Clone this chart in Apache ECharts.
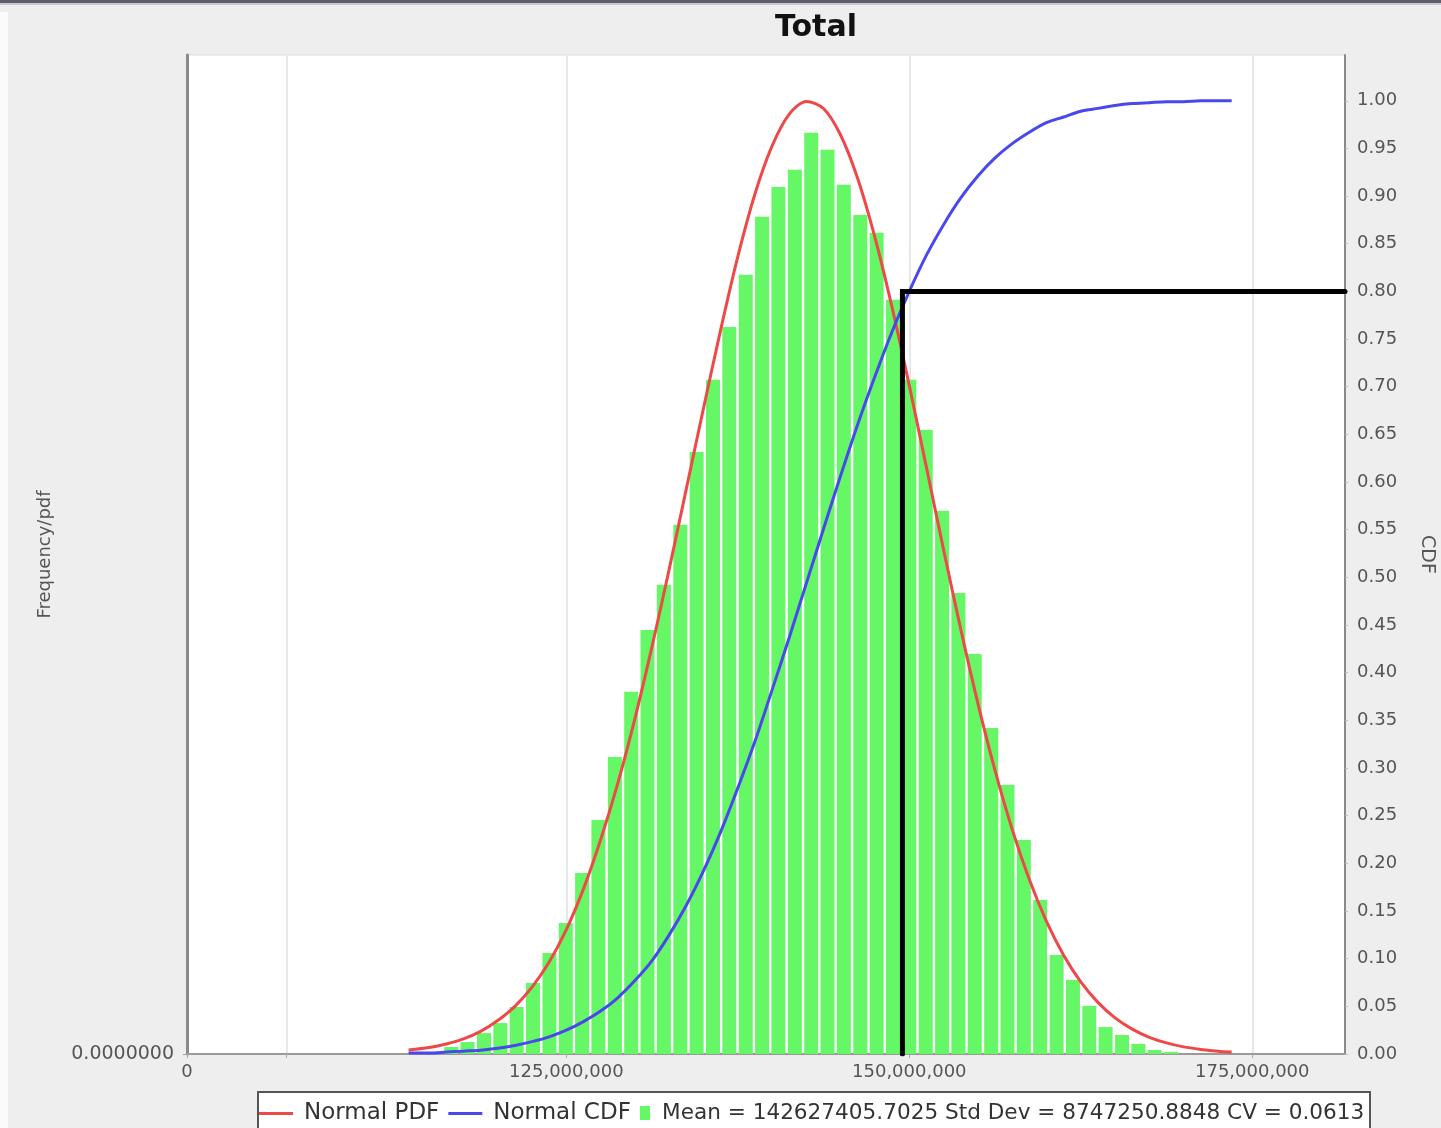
<!DOCTYPE html>
<html>
<head>
<meta charset="utf-8">
<script src="https://cdn.jsdelivr.net/npm/echarts@6/dist/echarts.min.js"></script>
<style>
html,body{margin:0;padding:0;background:#eeeeee;}
#chart{width:1441px;height:1128px;}
</style>
</head>
<body>
<div id="chart"></div>
<script>
// ---- data (x in millions, density in units of 1e-8) ----
const binCenters = [116.61, 117.80, 119.00, 120.19, 121.38, 122.57, 123.77, 124.96, 126.15, 127.34,
  128.54, 129.73, 130.92, 132.11, 133.31, 134.50, 135.69, 136.88, 138.08, 139.27,
  140.46, 141.66, 142.85, 144.04, 145.23, 146.43, 147.62, 148.81, 150.00, 151.20,
  152.39, 153.58, 154.77, 155.97, 157.16, 158.35, 159.54, 160.74, 161.93, 163.12,
  164.31, 165.51, 166.70, 167.89, 169.08];
const binDensity = [0.034, 0.057, 0.100, 0.148, 0.225, 0.340, 0.483, 0.627, 0.866, 1.120,
  1.421, 1.733, 2.029, 2.245, 2.532, 2.881, 3.226, 3.479, 3.728, 4.006,
  4.149, 4.231, 4.408, 4.327, 4.159, 4.015, 3.929, 3.609, 3.226, 2.986,
  2.599, 2.206, 1.914, 1.560, 1.287, 1.024, 0.737, 0.474, 0.354, 0.230,
  0.129, 0.091, 0.048, 0.019, 0.010];
const curveX = [113.5, 115, 116.25, 117.5, 118.75, 120, 121.25, 122.5, 123.75, 125,
  126.25, 127.5, 128.75, 130, 131.25, 132.5, 133.75, 135, 136.25, 137.5,
  138.75, 140, 141.25, 142.5, 143.75, 145, 146.25, 147.5, 148.75, 150,
  151.25, 152.5, 153.75, 155, 156.25, 157.5, 158.75, 160, 161.25, 162.5,
  163.75, 165, 166.25, 167.5, 168.75, 170, 171.25, 172.5, 173.5];
const pdfY = [0.019, 0.031, 0.048, 0.072, 0.108, 0.160, 0.228, 0.320, 0.440, 0.595,
  0.790, 1.025, 1.295, 1.605, 1.950, 2.320, 2.705, 3.090, 3.465, 3.815,
  4.115, 4.345, 4.497, 4.558, 4.524, 4.396, 4.187, 3.906, 3.571, 3.198,
  2.807, 2.413, 2.033, 1.678, 1.357, 1.075, 0.835, 0.635, 0.473, 0.345,
  0.247, 0.173, 0.119, 0.080, 0.053, 0.034, 0.022, 0.013, 0.009];
const cdfY = [0.001, 0.001, 0.002, 0.003, 0.004, 0.006, 0.009, 0.013, 0.018, 0.025,
  0.034, 0.045, 0.059, 0.077, 0.098, 0.125, 0.156, 0.192, 0.233, 0.279,
  0.328, 0.382, 0.437, 0.494, 0.551, 0.607, 0.661, 0.711, 0.758, 0.800,
  0.838, 0.870, 0.898, 0.921, 0.940, 0.955, 0.967, 0.977, 0.983, 0.989,
  0.992, 0.995, 0.997, 0.998, 0.999, 0.999, 1.000, 1.000, 1.000];
const p80X = 149.5;
const p80Cdf = 0.80;
const xTickValues = [97.35, 104.6, 125, 150, 175];
const xLabelValues = [97.35, 125, 150, 175];
const cdfTicks = [0.00, 0.05, 0.10, 0.15, 0.20, 0.25, 0.30, 0.35, 0.40, 0.45, 0.50,
  0.55, 0.60, 0.65, 0.70, 0.75, 0.80, 0.85, 0.90, 0.95, 1.00];
const freqTicks = [0];
const legendNames = ['Normal PDF', 'Normal CDF',
  'Mean = 142627405.7025 Std Dev = 8747250.8848 CV = 0.0613'];
const titleText = 'Total';

// ---- axis ranges ----
const xMin = 97.35, xMax = 181.76;
const yLeftMax = 4.78, yRightMax = 1.048;

const FONT = 'DejaVu Sans';
function commas(v) {
  return String(Math.round(v * 1e6)).replace(/\B(?=(\d{3})+(?!\d))/g, ',');
}
const lineIcon = 'path://M0,0M40,14M0,5.5h34v3h-34z';
const boxIcon = 'path://M0,0M17,14M0,0h10v14h-10z';

const chart = echarts.init(document.getElementById('chart'), null, {renderer: 'canvas'});
chart.setOption({
  animation: false,
  backgroundColor: '#eeeeee',
  title: {
    text: titleText, left: 770, top: 8,
    textStyle: {fontFamily: FONT, fontWeight: 'bold', fontSize: 30, color: '#111'}
  },
  graphic: [
    {type: 'rect', shape: {x: 0, y: 0, width: 1441, height: 3}, style: {fill: '#5d5d6d'}, silent: true},
    {type: 'rect', shape: {x: 0, y: 3, width: 1441, height: 2}, style: {fill: '#c8c8d0'}, silent: true},
    {type: 'rect', shape: {x: 0, y: 12, width: 8, height: 1116}, style: {fill: '#fbfbfb'}, silent: true},
    {type: 'rect', shape: {x: 258, y: 1092, width: 1112, height: 50},
      style: {fill: '#ffffff', stroke: '#555555', lineWidth: 2}, silent: true, z: -1}
  ],
  legend: [
    {
      data: [{name: legendNames[0], icon: lineIcon}, {name: legendNames[1], icon: lineIcon}],
      left: 259, top: 1102, padding: 0,
      itemGap: 9, itemWidth: 40, itemHeight: 14,
      textStyle: {fontFamily: FONT, fontSize: 23, color: '#333'}
    },
    {
      data: [{name: legendNames[2], icon: boxIcon}], left: 640, top: 1102, padding: 0,
      itemWidth: 17, itemHeight: 14,
      textStyle: {fontFamily: FONT, fontSize: 21.6, color: '#333'}
    }
  ],
  grid: {
    left: 187, right: 96, top: 55, bottom: 74,
    containLabel: false, outerBoundsMode: 'none',
    show: true, backgroundColor: '#ffffff', borderColor: '#dddddd', borderWidth: 1
  },
  xAxis: {
    type: 'value', min: xMin, max: xMax,
    axisLine: {show: true, onZero: false, lineStyle: {color: '#9a9a9a', width: 2}},
    axisTick: {show: true, length: 4, customValues: xTickValues, lineStyle: {color: '#aaa'}},
    splitLine: {show: true, lineStyle: {color: '#e8e8e8', width: 2}},
    axisLabel: {
      customValues: xLabelValues, margin: 9, color: '#555', fontFamily: FONT, fontSize: 18,
      formatter: v => (Math.abs(v - xMin) < 1e-6 ? '0' : commas(v))
    }
  },
  yAxis: [
    {
      type: 'value', position: 'left', min: 0, max: yLeftMax,
      name: 'Frequency/pdf', nameLocation: 'middle', nameRotate: 90, nameGap: 133,
      nameTextStyle: {fontFamily: FONT, fontSize: 18, color: '#555'},
      axisLine: {show: true, lineStyle: {color: '#8a8a8a', width: 3}},
      axisTick: {show: true, length: 4, customValues: freqTicks, lineStyle: {color: '#999'}},
      splitLine: {show: false},
      axisLabel: {
        customValues: freqTicks, margin: 13, color: '#555', fontFamily: FONT, fontSize: 19,
        formatter: v => (v * 1e-8).toFixed(7)
      }
    },
    {
      type: 'value', position: 'right', min: 0, max: yRightMax,
      name: 'CDF', nameLocation: 'middle', nameRotate: -90, nameGap: 72,
      nameTextStyle: {fontFamily: FONT, fontSize: 19, color: '#555'},
      axisLine: {show: true, lineStyle: {color: '#8a8a8a', width: 2}},
      axisTick: {show: true, length: 3, customValues: cdfTicks, lineStyle: {color: '#bbb'}},
      splitLine: {show: false},
      axisLabel: {
        customValues: cdfTicks, margin: 12, color: '#555', fontFamily: FONT, fontSize: 18,
        formatter: v => v.toFixed(2)
      }
    }
  ],
  series: [
    {
      name: legendNames[2], type: 'bar', xAxisIndex: 0, yAxisIndex: 0,
      barWidth: 14, itemStyle: {color: '#66f766'},
      data: binCenters.map((x, i) => [x, binDensity[i]]), z: 2
    },
    {
      name: legendNames[0], type: 'line', xAxisIndex: 0, yAxisIndex: 0,
      smooth: 0.3, symbol: 'none', lineStyle: {color: '#ee4848', width: 3}, itemStyle: {color: '#ee4848'},
      data: curveX.map((x, i) => [x, pdfY[i]]), z: 3
    },
    {
      name: legendNames[1], type: 'line', xAxisIndex: 0, yAxisIndex: 1,
      smooth: 0.3, symbol: 'none', lineStyle: {color: '#4848ee', width: 3}, itemStyle: {color: '#4848ee'},
      data: curveX.map((x, i) => [x, cdfY[i]]), z: 4
    },
    {
      name: 'P80', type: 'line', xAxisIndex: 0, yAxisIndex: 1,
      symbol: 'none', lineStyle: {color: '#000', width: 5, cap: 'round', join: 'miter'},
      data: [[p80X, 0], [p80X, p80Cdf], [xMax, p80Cdf]], z: 5
    }
  ]
});
</script>
</body>
</html>
